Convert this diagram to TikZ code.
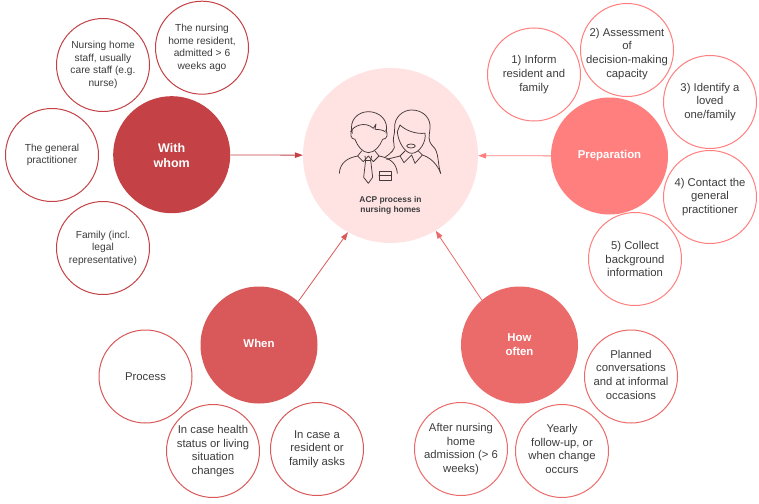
\documentclass[tikz,border=0pt]{standalone}
\usepackage{fontspec}
\setmainfont{Liberation Sans}
\usepackage{xcolor}
\usetikzlibrary{arrows.meta}
\definecolor{acpPale}{HTML}{FFE3E3}
\definecolor{acpWhom}{HTML}{C44246}
\definecolor{acpWhen}{HTML}{D95859}
\definecolor{acpOften}{HTML}{EB6B6B}
\definecolor{acpPrep}{HTML}{FF7F7F}
\definecolor{acpText}{HTML}{3C3C3C}
\definecolor{acpIcon}{HTML}{45393B}
\tikzset{
  hub/.style={circle, fill=#1, text=white, align=center, minimum size=117pt, inner sep=-10pt, font=\fontsize{11.4}{14}\selectfont\bfseries},
  leaf/.style={circle, draw=#1, fill=white, text=acpText, line width=1pt, align=center, minimum size=93pt, inner sep=-14pt, font=\fontsize{11.3}{13.7}\selectfont},
  leafsmall/.style={leaf=#1, font=\fontsize{10.2}{12.6}\selectfont},
  arr/.style={-{Triangle[length=8pt,width=5.5pt]}, line width=0.8pt, draw=#1},
  iconline/.style={draw=acpIcon, line width=0.75pt, line cap=round, line join=round}
}
\begin{document}
\begin{tikzpicture}[x=1pt,y=-1pt]
  \path[use as bounding box, fill=white] (0,0) rectangle (759,503);
  % middle
  \node[circle, fill=acpPale, minimum size=175pt, inner sep=0pt] (acp) at (390.5,155.5) {};
  \node[text=acpText, align=center, font=\fontsize{8.4}{10.6}\selectfont\bfseries] (acplabel) at (390.5,205.5) {ACP process in\\nursing homes};
  % the four topics
  \node[hub=acpWhom, font=\fontsize{12.5}{15}\selectfont\bfseries] (whom) at (171.7,154.7) {\rule{0pt}{11pt}With\\whom};
  \node[hub=acpPrep] (prep) at (609.5,156) {Preparation};
  \node[hub=acpWhen] (when) at (259,345) {\rule[-4pt]{0pt}{4pt}When};
  \node[hub=acpOften] (often) at (519.5,345) {How\\often};
  % with whom
  \node[leafsmall=acpWhom] (staff) at (103,65) {Nursing home\\staff, usually\\care staff (e.g.\\nurse)};
  \node[leafsmall=acpWhom] (resident) at (202,47.7) {The nursing\\home resident,\\admitted > 6\\weeks ago};
  \node[leafsmall=acpWhom] (gp) at (52,155) {The general\\practitioner};
  \node[leafsmall=acpWhom] (family) at (103,248) {Family (incl.\\legal\\representative)};
  % preparation
  \node[leaf=acpPrep] (inform) at (534,74.5) {1) Inform\\resident and\\family};
  \node[leaf=acpPrep] (assess) at (627,50) {\rule{0pt}{16pt}2) Assessment\\of\\decision-making\\capacity};
  \node[leaf=acpPrep] (loved) at (710,102) {3) Identify a\\loved\\one/family};
  \node[leaf=acpPrep] (contact) at (710,197) {4) Contact the\\general\\practitioner};
  \node[leaf=acpPrep] (collect) at (635,259) {5) Collect\\background\\information};
  % how often
  \node[leaf=acpOften] (planned) at (631,376.5) {Planned\\conversations\\and at informal\\\rule[-4pt]{0pt}{4pt}occasions};
  \node[leaf=acpOften] (after) at (461,449) {After nursing\\home\\admission (> 6\\weeks)};
  \node[leaf=acpOften] (yearly) at (562,451) {Yearly\\follow-up, or\\when change\\\rule[-4pt]{0pt}{4pt}occurs};
  % when
  \node[leaf=acpWhen] (process) at (145.5,376.5) {Process};
  \node[leaf=acpWhen] (health) at (213,451) {In case health\\status or living\\situation\\changes};
  \node[leaf=acpWhen] (asks) at (317,449) {In case a\\resident or\\family asks};
  % arrows
  \draw[arr=acpWhom] (whom) -- (acp);
  \draw[arr=acpPrep] (prep) -- (acp);
  \draw[arr=acpWhen] (when.48) -- (acp.241);
  \draw[arr=acpOften] (often.130) -- (acp.301);
  % icon
  \begin{scope}[shift={(320,70)}, x=0.3333pt, y=-0.3333pt]
    \draw[iconline] (97,190) .. controls (85,150) and (115,125) .. (145,125) .. controls (178,125) and (208,150) .. (198,190);
    \draw[iconline] (92,185) .. controls (100,168) and (135,152) .. (160,175) -- (168,162) -- (165,178) .. controls (175,178) and (190,180) .. (195,185);
    \draw[iconline] (97,180) .. controls (88,190) and (92,208) .. (105,208) .. controls (112,228) and (128,248) .. (145,248) .. controls (164,248) and (180,228) .. (188,208) .. controls (202,208) and (206,190) .. (197,180);
    \draw[iconline] (125,243) -- (113,258) -- (130,275) -- (145,258) -- (160,275) -- (177,258) -- (165,243);
    \draw[iconline] (135,258) -- (137,270) -- (131,322) -- (145,340) -- (158,322) -- (152,270) -- (155,258);
    \draw[iconline] (137,270) -- (152,270);
    \draw[iconline] (113,258) .. controls (80,264) and (60,280) .. (58,310);
    \draw[iconline] (177,258) .. controls (210,264) and (230,280) .. (232,310);
    \draw[iconline] (177,303) rectangle (215,332);
    \draw[iconline] (177,315) -- (215,315);
    % second person
    \draw[iconline] (195,262) .. controls (212,250) and (228,238) .. (222,222) .. controls (216,205) and (225,195) .. (224,175) .. controls (222,140) and (250,120) .. (275,120) .. controls (310,120) and (333,145) .. (330,175) .. controls (328,200) and (322,210) .. (338,228) .. controls (358,245) and (352,280) .. (362,310);
    \draw[iconline] (232,185) -- (240,165) .. controls (258,182) and (285,192) .. (315,190);
    \draw[iconline] (232,185) .. controls (234,215) and (255,250) .. (275,250) .. controls (298,250) and (320,215) .. (315,190);
    \draw[iconline] (273,228) ellipse (13 and 6);
    \draw[iconline] (255,243) -- (240,258) -- (252,278) -- (275,255) -- (285,280) -- (307,255) -- (295,243);
    \draw[iconline] (240,258) -- (200,268);
    \draw[iconline] (307,255) .. controls (330,262) and (352,282) .. (362,310);
  \end{scope}
\end{tikzpicture}
\end{document}
